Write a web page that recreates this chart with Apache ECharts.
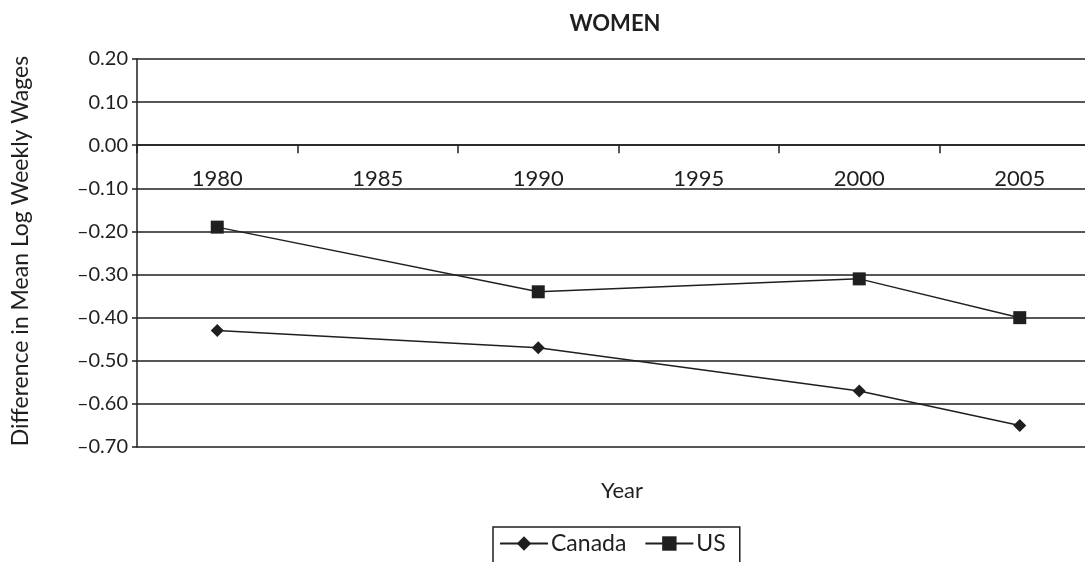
<!DOCTYPE html>
<html>
<head>
<meta charset="utf-8">
<script src="https://cdn.jsdelivr.net/npm/echarts@6/dist/echarts.min.js"></script>
<style>
  html, body { margin: 0; padding: 0; background: #fff; }
  #chart { width: 1085px; height: 562px; }
</style>
</head>
<body>
<div id="chart"></div>
<script>
// Data
const years = ['1980', '1985', '1990', '1995', '2000', '2005'];
const canada = [-0.43, null, -0.47, null, -0.57, -0.65];
const us = [-0.19, null, -0.34, null, -0.31, -0.40];
const yMin = -0.7;
const yMax = 0.2;
const yStep = 0.1;

const FONT = 'Lato, "Noto Sans", sans-serif';
const INK = '#1f1f1f';

const chart = echarts.init(document.getElementById('chart'), null, { renderer: 'canvas' });

const fmtTick = (v) => {
  const s = Math.abs(v).toFixed(2);
  return v < -1e-9 ? '\u2013' + s : s;
};

// top of grid is 0.20, the category axis sits on 0.00 -> shift it down
const plotTop = 59;
const plotBottom = 447;
const zeroOffset = -(plotBottom - plotTop) * (yMax / (yMax - yMin));

const option = {
  backgroundColor: '#fff',
  animation: false,
  title: [
    {
      text: 'WOMEN',
      left: 610,
      top: 8,
      textAlign: 'center',
      textStyle: { fontFamily: FONT, fontSize: 22, fontWeight: 'bold', color: INK }
    },
    {
      text: 'Year',
      left: 617,
      top: 475,
      textAlign: 'center',
      textStyle: { fontFamily: FONT, fontSize: 22, fontWeight: 'normal', color: INK }
    }
  ],
  graphic: [
    {
      type: 'text',
      x: 21,
      y: 251,
      rotation: Math.PI / 2,
      style: {
        text: 'Difference in Mean Log Weekly Wages',
        fontFamily: FONT,
        fontSize: 23,
        fill: INK,
        align: 'center',
        verticalAlign: 'middle'
      }
    }
  ],
  // the last category band runs past the right edge of the picture
  grid: {
    left: 137,
    top: plotTop,
    width: 963,
    height: plotBottom - plotTop,
    outerBoundsMode: 'none',
    containLabel: false
  },
  legend: {
    left: 493,
    top: 527,
    orient: 'horizontal',
    itemWidth: 48,
    itemHeight: 18,
    itemGap: 18,
    padding: [5, 14, 10, 6],
    borderColor: INK,
    borderWidth: 1.5,
    textStyle: { fontFamily: FONT, fontSize: 23, color: INK, padding: [0, 0, 0, -2] },
    data: ['Canada', 'US']
  },
  xAxis: {
    type: 'category',
    data: years,
    boundaryGap: true,
    position: 'top',
    offset: zeroOffset,
    axisLine: { onZero: false, lineStyle: { color: INK, width: 1.5 } },
    axisTick: { show: true, inside: true, interval: 0, length: 8, lineStyle: { color: INK, width: 1.5 } },
    axisLabel: { inside: true, interval: 0, margin: 23, fontFamily: FONT, fontSize: 22, color: INK },
    splitLine: { show: false }
  },
  yAxis: {
    type: 'value',
    min: yMin,
    max: yMax,
    interval: yStep,
    axisLine: { show: true, lineStyle: { color: INK, width: 1.5 } },
    axisTick: { show: true, length: 5, lineStyle: { color: INK, width: 1.5 } },
    axisLabel: { margin: 9, fontFamily: FONT, fontSize: 20, color: INK, formatter: fmtTick },
    splitLine: { show: true, lineStyle: { color: INK, width: 1.5 } }
  },
  series: [
    {
      name: 'Canada',
      type: 'line',
      data: canada,
      connectNulls: true,
      symbol: 'diamond',
      symbolSize: 13,
      showAllSymbol: true,
      itemStyle: { color: INK },
      lineStyle: { color: INK, width: 1.5 }
    },
    {
      name: 'US',
      type: 'line',
      data: us,
      connectNulls: true,
      symbol: 'rect',
      symbolSize: 13,
      showAllSymbol: true,
      itemStyle: { color: INK },
      lineStyle: { color: INK, width: 1.5 }
    }
  ]
};

chart.setOption(option);
</script>
</body>
</html>
